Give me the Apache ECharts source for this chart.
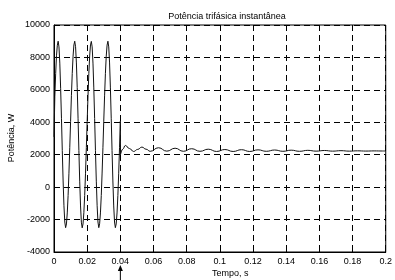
<!DOCTYPE html>
<html><head><meta charset="utf-8">
<script src="https://cdn.jsdelivr.net/npm/echarts@6/dist/echarts.min.js"></script>
<style>html,body{margin:0;padding:0;background:#fff}#c{width:395px;height:280px}</style>
</head><body><div id="c"></div>
<script>
// Tick values
const xTicks = [0, 0.02, 0.04, 0.06, 0.08, 0.1, 0.12, 0.14, 0.16, 0.18, 0.2];
const yTicks = [-4000, -2000, 0, 2000, 4000, 6000, 8000, 10000];
// Pulsating part (before t = 0.04 s), time in s, power in W
const tPulse = [
0,0.0005,0.001,0.0015,0.002,0.0025,0.003,0.0035,0.004,0.0045,0.005,0.0055,0.006,0.0065,0.007,0.0075,0.008,0.0085,0.009,0.0095,
0.01,0.0105,0.011,0.0115,0.012,0.0125,0.013,0.0135,0.014,0.0145,0.015,0.0155,0.016,0.0165,0.017,0.0175,0.018,0.0185,0.019,0.0195,
0.02,0.0205,0.021,0.0215,0.022,0.0225,0.023,0.0235,0.024,0.0245,0.025,0.0255,0.026,0.0265,0.027,0.0275,0.028,0.0285,0.029,0.0295,
0.03,0.0305,0.031,0.0315,0.032,0.0325,0.033,0.0335,0.034,0.0345,0.035,0.0355,0.036,0.0365,0.037,0.0375,0.038,0.0385,0.039,0.0395,
0.04,0.0401];
const pPulse = [
3100,5600,7000,8100,8750,9000,8650,7650,6100,4250,2250,380,-1150,-2150,-2500,-2270,-1590,-520,860,2430,
4060,5640,7010,8080,8770,9000,8660,7660,6130,4250,2260,370,-1160,-2160,-2510,-2270,-1580,-510,860,2440,
4070,5640,7020,8090,8770,8990,8650,7650,6120,4240,2250,370,-1150,-2150,-2500,-2260,-1590,-520,870,2430,
4070,5630,7020,8080,8760,9000,8650,7660,6120,4250,2250,380,-1160,-2150,-2500,-2270,-1590,-510,860,2430,
4070,2000];
// Settled part with decaying ripple (after t = 0.04 s)
const tSettle = [0.0401,0.0415,0.043,0.0455,0.048,0.0505,0.053,0.0555,0.058,0.063,0.068,0.073,0.078,0.083,0.088,0.093,0.098,0.103,0.108,0.113,0.118,0.123,0.128,0.133,0.138,0.143,0.148,0.153,0.158,0.163,0.168,0.173,0.178,0.183,0.188,0.193,0.198,0.2];
const pSettle = [2000,2350,2570,2380,2200,2330,2470,2340,2210,2430,2220,2400,2210,2370,2210,2340,2200,2320,2200,2310,2200,2300,2210,2290,2210,2280,2210,2270,2220,2260,2220,2250,2220,2240,2225,2235,2230,2230];

const FONT = 'Liberation Sans, Arial, sans-serif';
const chart = echarts.init(document.getElementById('c'), null, {renderer:'canvas'});
const zip = (a,b) => a.map((v,i)=>[v,b[i]]);
const fmtX = v => (Math.round(v*100)/100).toString();
const fmtY = v => String(Math.round(v));

chart.setOption({
  animation:false,
  backgroundColor:'#fff',
  title:{text:'Potência trifásica instantânea', left:222, top:7, textAlign:'center',
    textStyle:{fontFamily:FONT, fontSize:9, fontWeight:'normal', color:'#000'}},
  grid:{left:54, right:5, top:25, bottom:28, show:true, borderColor:'#000', borderWidth:1, backgroundColor:'transparent'},
  xAxis:{type:'value', min:0, max:0.2, interval:0.02,
    axisLine:{show:true, onZero:false, lineStyle:{color:'#000', width:1}},
    axisTick:{show:true, inside:true, length:3, lineStyle:{color:'#000'}},
    axisLabel:{color:'#000', fontFamily:FONT, fontSize:9, margin:5, formatter:fmtX, showMaxLabel:true},
    splitLine:{show:true, lineStyle:{color:'#000', type:[6,4], width:1}}},
  yAxis:{type:'value', min:-4000, max:10000, interval:2000,
    axisLine:{show:true, onZero:false, lineStyle:{color:'#000', width:1}},
    axisTick:{show:true, inside:true, length:3, lineStyle:{color:'#000'}},
    axisLabel:{color:'#000', fontFamily:FONT, fontSize:9, margin:4, formatter:fmtY},
    splitLine:{show:true, lineStyle:{color:'#000', type:[6,4], width:1}}},
  series:[
    {type:'line', data:zip(tPulse,pPulse), showSymbol:false, lineStyle:{color:'#111', width:1}, smooth:false},
    {type:'line', data:zip(tSettle,pSettle), showSymbol:false, lineStyle:{color:'#111', width:1}, smooth:0.5, smoothMonotone:'x'}
  ]
});

const xArrow = chart.convertToPixel({xAxisIndex:0}, 0.04);
const gBottom = chart.getHeight() - 28;
chart.setOption({
  graphic:[
    {type:'text', left:212, top:gBottom+17, style:{text:'Tempo, s', fontFamily:FONT, fontSize:9, fill:'#000', textAlign:'center'}},
    {type:'text', x:12, y:138, rotation:Math.PI/2, style:{text:'Potência, W', fontFamily:FONT, fontSize:9, fill:'#000', textAlign:'center', textVerticalAlign:'middle'}},
    {type:'line', shape:{x1:xArrow, y1:gBottom+16, x2:xArrow, y2:gBottom+28}, style:{stroke:'#000', lineWidth:1}},
    {type:'polygon', shape:{points:[[xArrow, gBottom+13],[xArrow-2.5, gBottom+19],[xArrow+2.5, gBottom+19]]}, style:{fill:'#000'}}
  ]
});
</script></body></html>
